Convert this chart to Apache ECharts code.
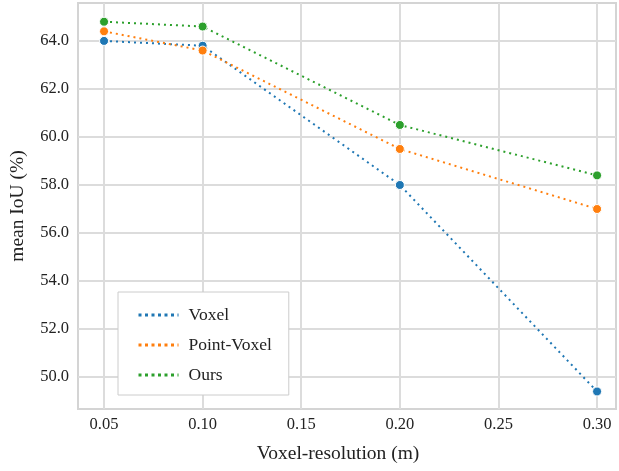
<!DOCTYPE html>
<html><head><meta charset="utf-8">
<script src="https://cdn.jsdelivr.net/npm/echarts@6/dist/echarts.min.js"></script>
<style>html,body{margin:0;padding:0;background:#fff}#c{width:619px;height:471px}</style>
</head><body><div id="c"></div>
<script>
const resolutions = [0.05, 0.10, 0.20, 0.30];
const voxel = [64.0, 63.8, 58.0, 49.4];
const pointVoxel = [64.4, 63.6, 59.5, 57.0];
const ours = [64.8, 64.6, 60.5, 58.4];
const xTicks = [0.05, 0.10, 0.15, 0.20, 0.25, 0.30];
const yTicks = [50, 52, 54, 56, 58, 60, 62, 64];
const names = ['Voxel', 'Point-Voxel', 'Ours'];
const colors = ['#1f77b4', '#ff7f0e', '#2ca02c'];
const FONT = 'Liberation Serif';

const chart = echarts.init(document.getElementById('c'));
const gridLineStyle = {color: '#dcdcdc', width: 2, type: 'solid'};
function mk(name, vals, i) {
  return {
    name: name, type: 'line', data: resolutions.map((x, k) => [x, vals[k]]),
    symbol: 'circle', symbolSize: 9,
    lineStyle: {color: colors[i], width: 2, type: [2, 4]},
    itemStyle: {color: colors[i], borderColor: '#fff', borderWidth: 1},
    z: 5 + i
  };
}
const series = [mk(names[0], voxel, 0), mk(names[1], pointVoxel, 1), mk(names[2], ours, 2)];
series.push({
  type: 'line', data: [], silent: true, z: 1,
  markLine: {
    silent: true, symbol: 'none', label: {show: false}, animation: false, z: 1,
    lineStyle: gridLineStyle,
    data: xTicks.map(v => ({xAxis: v})).concat(yTicks.map(v => ({yAxis: v})))
  }
});
chart.setOption({
  animation: false,
  textStyle: {fontFamily: FONT},
  grid: {left: 77, right: 3, top: 3, bottom: 62, show: true, borderColor: '#d4d4d4', borderWidth: 2, backgroundColor: '#fff'},
  xAxis: {
    type: 'value', min: 0.0368, max: 0.3096,
    name: 'Voxel-resolution (m)', nameLocation: 'middle', nameGap: 35,
    nameTextStyle: {fontFamily: FONT, fontSize: 19.5, color: '#222', padding: [0, 18, 0, 0]},
    axisLine: {show: false}, axisTick: {show: false}, splitLine: {show: false},
    axisLabel: {customValues: xTicks, formatter: v => v.toFixed(2), fontFamily: FONT, fontSize: 16.5, color: '#222', margin: 7}
  },
  yAxis: {
    type: 'value', min: 48.67, max: 65.58,
    name: 'mean IoU (%)', nameLocation: 'middle', nameGap: 50,
    nameTextStyle: {fontFamily: FONT, fontSize: 19.5, color: '#222'},
    axisLine: {show: false}, axisTick: {show: false}, splitLine: {show: false},
    axisLabel: {customValues: yTicks, formatter: v => v.toFixed(1), fontFamily: FONT, fontSize: 16.5, color: '#222', margin: 9}
  },
  legend: {
    data: names, orient: 'vertical', left: 118, top: 292, z: 20,
    backgroundColor: '#fff', borderColor: '#cccccc', borderWidth: 1, borderRadius: 0,
    padding: [14, 17, 11, 19], itemGap: 12, itemWidth: 40, itemHeight: 14,
    itemStyle: {opacity: 0}, lineStyle: {width: 3, type: [3, 3.5]},
    textStyle: {fontFamily: FONT, fontSize: 17.5, color: '#222', padding: [0, 0, 0, 5]}
  },
  series: series
});
</script></body></html>
